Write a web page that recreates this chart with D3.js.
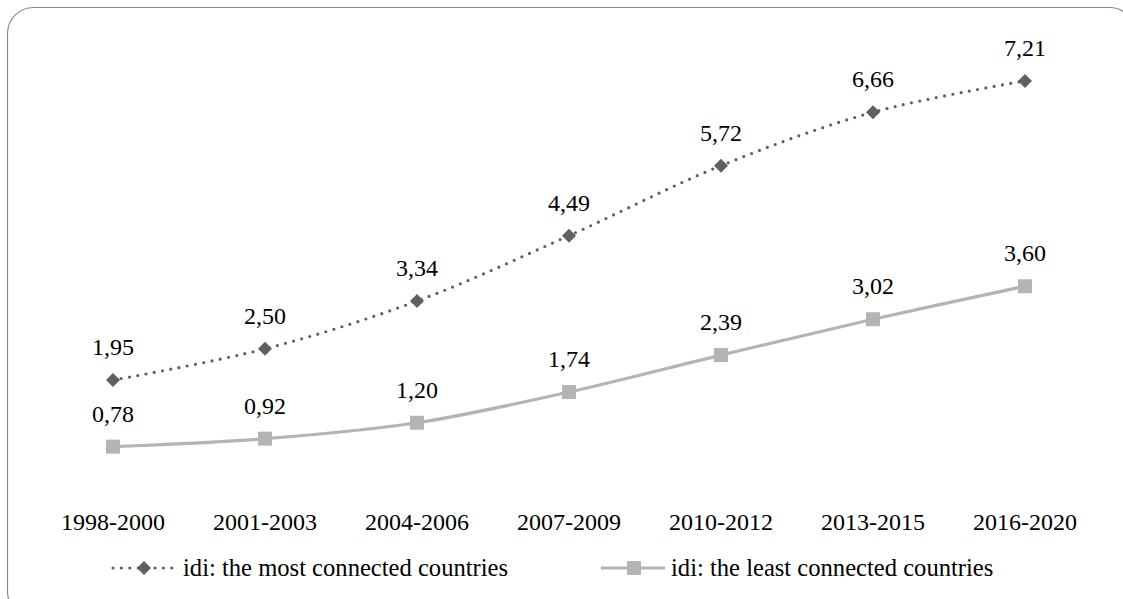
<!DOCTYPE html>
<html><head><meta charset="utf-8">
<script src="https://cdn.jsdelivr.net/npm/d3@7"></script>
<style>body{margin:0;background:#fff}svg{display:block}svg text{font-family:'Liberation Serif',serif !important}</style>
</head><body>
<svg id="c" width="1123" height="599"></svg>
<script>
const categories = ["1998-2000","2001-2003","2004-2006","2007-2009","2010-2012","2013-2015","2016-2020"];
const mostConnected = [1.95,2.50,3.34,4.49,5.72,6.66,7.21];
const leastConnected = [0.78,0.92,1.20,1.74,2.39,3.02,3.60];
const seriesNames = ["idi: the most connected countries","idi: the least connected countries"];

const FONT = "'Liberation Serif', serif";
const svg = d3.select("#c");
svg.append("rect").attr("x",7.5).attr("y",7.5).attr("width",1128).attr("height",610)
  .attr("rx",26).attr("ry",26).attr("fill","#fff").attr("stroke","#888").attr("stroke-width",1.2);

const x = d3.scaleBand().domain(categories).range([37,1101]);
const y = d3.scaleLinear().domain([0,8]).range([491,36]);
const cx = d => x(d) + x.bandwidth()/2;
const fmt = v => v.toFixed(2).replace(".",",");

const line = d3.line().x(d=>cx(d.c)).y(d=>y(d.v)).curve(d3.curveCatmullRom.alpha(0.5));
const mk = arr => categories.map((c,i)=>({c, v:arr[i]}));

const dark = "#606060", light = "#b4b4b4";

const dl = mk(leastConnected);
svg.append("path").attr("d",line(dl)).attr("fill","none").attr("stroke",light).attr("stroke-width",3.2);
svg.selectAll(".sq").data(dl).join("rect").attr("x",d=>cx(d.c)-7).attr("y",d=>y(d.v)-7)
  .attr("width",14).attr("height",14).attr("fill",light);

const dm = mk(mostConnected);
svg.append("path").attr("d",line(dm)).attr("fill","none").attr("stroke",dark).attr("stroke-width",3.2)
  .attr("stroke-dasharray","0 8.4").attr("stroke-linecap","round");
const diamond = (px,py,r) => `M${px},${py-r}L${px+r},${py}L${px},${py+r}L${px-r},${py}Z`;
svg.selectAll(".dm").data(dm).join("path").attr("d",d=>diamond(cx(d.c),y(d.v),7)).attr("fill",dark);

[dm, dl].forEach(ds=>{
  svg.append("g").selectAll("text").data(ds).join("text")
    .attr("x",d=>cx(d.c)).attr("y",d=>y(d.v)-25).attr("text-anchor","middle")
    .style("font-family",FONT).style("font-size","24px").attr("fill","#000").text(d=>fmt(d.v));
});

const xa = svg.append("g").attr("transform","translate(0,491)").call(d3.axisBottom(x).tickSize(0).tickPadding(0));
xa.attr("font-family",FONT);
xa.select(".domain").remove();
xa.selectAll("text").attr("y",39).attr("dy",0)
  .style("font-family",FONT).style("font-size","24px").attr("fill","#000");

const ly = 568;
const lg = svg.append("g");
lg.append("line").attr("x1",113).attr("x2",172).attr("y1",ly).attr("y2",ly).attr("stroke",dark)
  .attr("stroke-width",3.2).attr("stroke-dasharray","0 8.4").attr("stroke-linecap","round");
lg.append("path").attr("d",diamond(144,ly,7)).attr("fill",dark);
lg.append("text").attr("x",183).attr("y",ly+8).style("font-family",FONT).style("font-size","24.6px").attr("fill","#000").text(seriesNames[0]);
lg.append("line").attr("x1",601).attr("x2",665).attr("y1",ly).attr("y2",ly).attr("stroke",light).attr("stroke-width",3.2);
lg.append("rect").attr("x",627).attr("y",ly-7).attr("width",14).attr("height",14).attr("fill",light);
lg.append("text").attr("x",671).attr("y",ly+8).style("font-family",FONT).style("font-size","24.6px").attr("fill","#000").text(seriesNames[1]);
</script>
</body></html>
